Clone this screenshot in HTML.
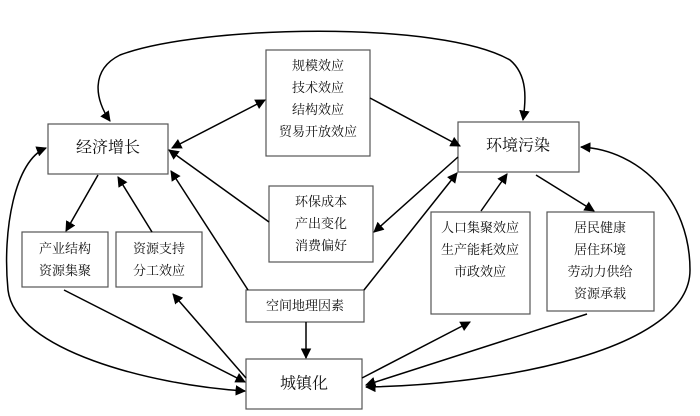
<!DOCTYPE html>
<html><head><meta charset="utf-8"><style>
html,body{margin:0;padding:0;background:#fff;}
svg{display:block}
text{font-family:"Liberation Serif","Noto Serif CJK SC","Noto Sans CJK SC",serif;fill:#111;text-anchor:middle;dominant-baseline:middle}
.s{font-size:13px}.b{font-size:16px}
rect{fill:#fff;stroke:#555;stroke-width:1.2}
.c{stroke:#000;stroke-width:1.5;fill:none}
path.h{fill:#000;stroke:none}
</style></head><body>
<svg width="700" height="416" viewBox="0 0 700 416">
<defs><marker id="a" viewBox="0 0 10 10" refX="9" refY="5" markerWidth="7" markerHeight="7" orient="auto-start-reverse"><path class="h" d="M0,0 L10,5 L0,10 z"/></marker></defs>
<rect x="48" y="124" width="120" height="50"/><text class="b" x="108" y="149">经济增长</text>
<rect x="266" y="50" width="104" height="106"/>
<text class="s" x="318" y="67">规模效应</text><text class="s" x="318" y="89">技术效应</text><text class="s" x="318" y="111">结构效应</text><text class="s" x="318" y="133">贸易开放效应</text>
<rect x="269" y="186" width="104" height="76"/>
<text class="s" x="321" y="203">环保成本</text><text class="s" x="321" y="225">产出变化</text><text class="s" x="321" y="247">消费偏好</text>
<rect x="22" y="232" width="86" height="55"/><text class="s" x="65" y="250">产业结构</text><text class="s" x="65" y="272">资源集聚</text>
<rect x="116" y="232" width="86" height="55"/><text class="s" x="159" y="250">资源支持</text><text class="s" x="159" y="272">分工效应</text>
<rect x="246" y="290" width="118" height="32"/><text class="s" x="305" y="307">空间地理因素</text>
<rect x="246" y="359" width="116" height="50"/><text class="b" x="304" y="385">城镇化</text>
<rect x="458" y="122" width="121" height="50"/><text class="b" x="518" y="147">环境污染</text>
<rect x="431" y="212" width="99" height="102"/>
<text class="s" x="480" y="229">人口集聚效应</text><text class="s" x="480" y="251">生产能耗效应</text><text class="s" x="480" y="273">市政效应</text>
<rect x="547" y="212" width="107" height="99"/>
<text class="s" x="600" y="229">居民健康</text><text class="s" x="600" y="251">居住环境</text><text class="s" x="600" y="273">劳动力供给</text><text class="s" x="600" y="295">资源承载</text>
<g class="c">
<path d="M110 121 C95 100 90 70 120 55 C200 25 440 20 510 60 C528 75 526 100 523 120" marker-start="url(#a)" marker-end="url(#a)"/>
<line x1="172" y1="148" x2="265" y2="100" marker-start="url(#a)" marker-end="url(#a)"/>
<line x1="370" y1="98" x2="460" y2="146" marker-end="url(#a)"/>
<line x1="458" y1="157" x2="374" y2="232" marker-end="url(#a)"/>
<line x1="269" y1="222" x2="169" y2="150" marker-end="url(#a)"/>
<line x1="98" y1="175" x2="66" y2="231" marker-end="url(#a)"/>
<line x1="152" y1="232" x2="118" y2="177" marker-end="url(#a)"/>
<line x1="248" y1="290" x2="171" y2="171" marker-end="url(#a)"/>
<line x1="364" y1="290" x2="457" y2="173" marker-end="url(#a)"/>
<line x1="306" y1="322" x2="306" y2="358" marker-end="url(#a)"/>
<line x1="64" y1="290" x2="245" y2="382" marker-end="url(#a)"/>
<line x1="246" y1="378" x2="173" y2="294" marker-end="url(#a)"/>
<path d="M46 148 C15 160 2 230 8 290 C15 350 150 385 245 391" marker-start="url(#a)" marker-end="url(#a)"/>
<line x1="362" y1="378" x2="470" y2="322" marker-end="url(#a)"/>
<line x1="587" y1="314" x2="366" y2="385" marker-end="url(#a)"/>
<path d="M581 147 C640 150 690 200 690 270 C690 350 500 385 366 387" marker-start="url(#a)" marker-end="url(#a)"/>
<line x1="481" y1="211" x2="507" y2="174" marker-end="url(#a)"/>
<line x1="536" y1="175" x2="594" y2="211" marker-end="url(#a)"/>
</g>
</svg>
</body></html>
